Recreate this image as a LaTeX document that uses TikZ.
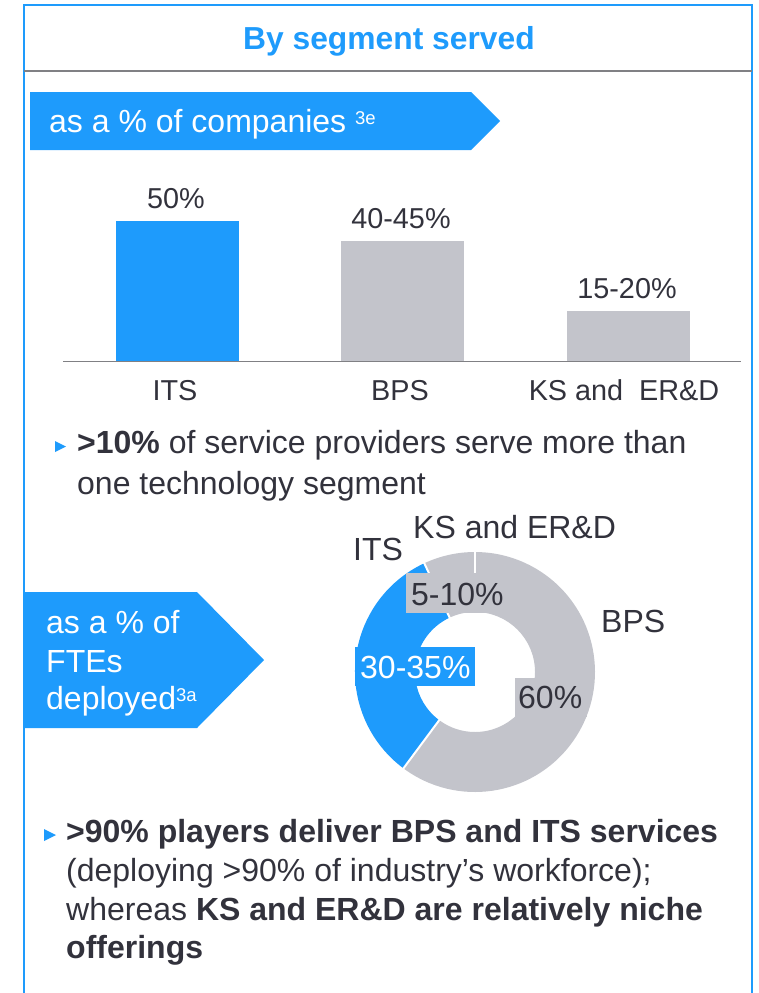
\documentclass[tikz,border=0pt]{standalone}
\usepackage{fontspec}
\setmainfont{Liberation Sans}
\definecolor{myblue}{RGB}{30,155,252}
\definecolor{bargray}{RGB}{195,196,203}
\definecolor{txt}{RGB}{50,50,60}
\definecolor{rulegray}{RGB}{128,128,132}
\newcommand{\supr}[1]{\raisebox{8pt}{\fontsize{18.5}{18}\selectfont #1}}
\begin{document}
\begin{tikzpicture}[x=1pt,y=-1pt,
  body/.style={anchor=base west, inner sep=0pt, text=txt, font=\fontsize{32}{38}\selectfont},
  wbody/.style={body, text=white},
  barlbl/.style={anchor=base, inner sep=0pt, text=txt, font=\fontsize{28.8}{34}\selectfont},
  frameline/.style={draw=myblue, line width=2pt},
  banner/.style={fill=myblue},
  bar/.style={fill=bargray},
  bullet/.style={fill=myblue}
]
\useasboundingbox (0,0) rectangle (759,993);

% frame
\draw[frameline] (24,994) -- (24,4.5) -- (752,4.5) -- (752,994);
\draw[draw=rulegray, line width=2pt] (24,71) -- (752,71);

% title
\node[anchor=base, inner sep=0pt, text=myblue, font=\fontsize{31.8}{38}\selectfont\bfseries] (title) at (389,49) {By segment served};

% banner 1
\fill[banner] (30,92) -- (471,92) -- (500,121) -- (471,150) -- (30,150) -- cycle;
\node[wbody] (b1) at (49,132) {as a \% of companies \supr{3e}};

% bar chart
\fill[fill=myblue] (115.5,221) rectangle (238.5,361);
\fill[bar] (340.5,241) rectangle (463.5,361);
\fill[bar] (567,311) rectangle (690,361);
\draw[draw=rulegray, line width=1.5pt] (63,361.5) -- (741,361.5);
\node[barlbl] (v1) at (176,208) {50\%};
\node[barlbl] (v2) at (401,228) {40-45\%};
\node[barlbl] (v3) at (627,298) {15-20\%};
\node[barlbl] (c1) at (175,400) {ITS};
\node[barlbl] (c2) at (400,400) {BPS};
\node[barlbl] (c3) at (624,400) {KS and~~ER\&D};

% bullet 1
\fill[bullet] (55,441) -- (55,452) -- (66,446.5) -- cycle;
\node[body] (t1a) at (77,453) {\textbf{>10\%} of service providers serve more than};
\node[body] (t1b) at (77,494) {one technology segment};

% banner 2
\fill[banner] (25,592) -- (197,592) -- (264,660) -- (197,728) -- (25,728) -- cycle;
\node[wbody] (b2a) at (46,633) {as a \% of};
\node[wbody] (b2b) at (46,672) {FTEs};
\node[wbody] (b2c) at (46,709) {deployed\supr{3a}};

% donut
\begin{scope}[shift={(475,672)}, yscale=-1]
  \fill[bargray] (90:120) arc[start angle=90, end angle=115, radius=120] -- (115:60) arc[start angle=115, end angle=90, radius=60] -- cycle;
  \fill[myblue] (115:120) arc[start angle=115, end angle=233.4, radius=120] -- (233.4:60) arc[start angle=233.4, end angle=115, radius=60] -- cycle;
  \fill[bargray] (233.4:120) arc[start angle=233.4, end angle=450, radius=120] -- (450:60) arc[start angle=450, end angle=233.4, radius=60] -- cycle;
  \foreach \a in {90,115,233.4} \draw[white, line width=2pt] (\a:59) -- (\a:121);
\end{scope}
\fill[bargray] (406,573) rectangle (508,613);
\fill[myblue] (355,647) rectangle (475,686);
\fill[bargray] (515,678) rectangle (587,717);
\node[body] (d1) at (411,605) {5-10\%};
\node[wbody] (d2) at (360,678) {30-35\%};
\node[body] (d3) at (518,708) {60\%};
\node[body] (l1) at (413,538) {KS and ER\&D};
\node[body] (l2) at (353,560) {ITS};
\node[body] (l3) at (601,632) {BPS};

% bullet 2
\fill[bullet] (44,829) -- (44,841) -- (56,835) -- cycle;
\node[body] (t2a) at (66,842) {\textbf{>90\% players deliver BPS and ITS services}};
\node[body] (t2b) at (66,881) {(deploying >90\% of industry’s workforce);};
\node[body] (t2c) at (66,920) {whereas \textbf{KS and ER\&D are relatively niche}};
\node[body] (t2d) at (66,958) {\textbf{offerings}};
\end{tikzpicture}
\end{document}
